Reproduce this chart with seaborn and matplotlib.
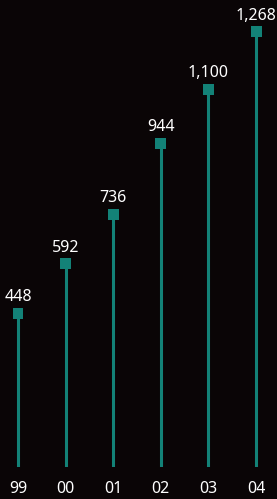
import numpy as np
import pandas as pd
import matplotlib
matplotlib.use("Agg")
import matplotlib.pyplot as plt
import seaborn as sns

years = ["99", "00", "01", "02", "03", "04"]
values = [448, 592, 736, 944, 1100, 1268]

bg = "#0a0506"
teal = "#138277"

sns.set_style("dark")
plt.rcParams['font.family'] = ['Noto Sans', 'DejaVu Sans']

df = pd.DataFrame({"year": years, "value": values})
df["pos"] = np.arange(len(df))

fig = plt.figure(figsize=(2.77, 4.99), dpi=100, facecolor=bg)
ax = fig.add_axes([0, 32/499, 1, 467/499])
ax.set_facecolor(bg)

ax.vlines(df["pos"], 0, df["value"], color=teal, linewidth=2.2, zorder=2)
sns.scatterplot(data=df, x="pos", y="value", marker="s", s=62, color=teal,
                edgecolor="none", ax=ax, zorder=3)

for p, v in zip(df["pos"], df["value"]):
    ax.text(p, v + 24, f"{v:,}", ha="center", va="bottom", color="white", fontsize=11.5)

ax.set_xlim(-0.378, 5.44)
ax.set_ylim(0, 1361)
ax.set_xticks(df["pos"])
ax.set_xticklabels(years, color="white", fontsize=11.5)
ax.tick_params(axis="x", length=0, pad=10)
ax.set_yticks([])
ax.set_xlabel("")
ax.set_ylabel("")
for s in ax.spines.values():
    s.set_visible(False)
ax.grid(False)

fig.savefig("out.png", dpi=100, facecolor=bg)
